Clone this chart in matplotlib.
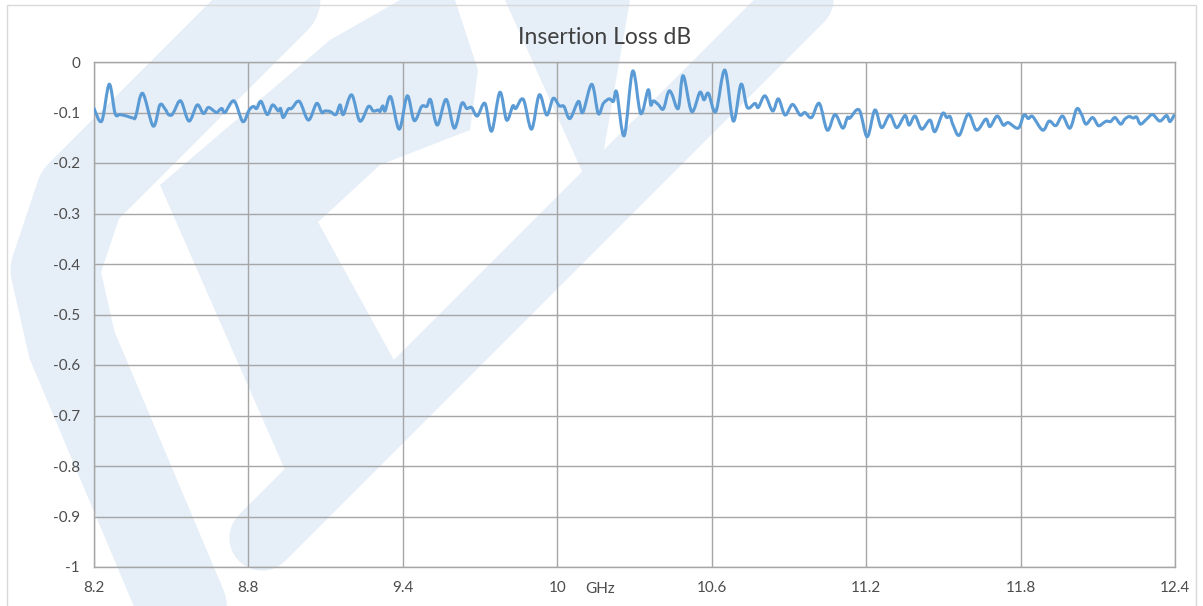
import numpy as np
import matplotlib.pyplot as plt
from matplotlib.path import Path
from matplotlib.patches import PathPatch, Rectangle, Polygon
from matplotlib.lines import Line2D

plt.rcParams['font.family'] = ['Lato', 'DejaVu Sans']

# frequency (GHz) and insertion loss (dB)
freq = [8.200, 8.230, 8.259, 8.282, 8.301, 8.327, 8.352, 8.362, 8.389, 8.430,
        8.456, 8.476, 8.489, 8.502, 8.511, 8.537, 8.569, 8.601, 8.625, 8.644,
        8.666, 8.677, 8.696, 8.709, 8.744, 8.778, 8.803, 8.819, 8.832, 8.849,
        8.873, 8.894, 8.916, 8.925, 8.935, 8.955, 8.968, 8.998, 9.033, 9.065,
        9.085, 9.097, 9.117, 9.140, 9.156, 9.169, 9.201, 9.233, 9.266, 9.285,
        9.305, 9.311, 9.322, 9.331, 9.353, 9.386, 9.417, 9.444, 9.473, 9.493,
        9.508, 9.534, 9.568, 9.600, 9.629, 9.648, 9.667, 9.689, 9.719, 9.745,
        9.777, 9.803, 9.827, 9.839, 9.868, 9.900, 9.930, 9.959, 9.984, 10.008,
        10.026, 10.049, 10.082, 10.099, 10.134, 10.159, 10.179, 10.202, 10.218, 10.231,
        10.260, 10.293, 10.324, 10.353, 10.363, 10.373, 10.392, 10.412, 10.431, 10.444,
        10.470, 10.489, 10.522, 10.554, 10.570, 10.587, 10.616, 10.651, 10.684, 10.714,
        10.738, 10.768, 10.781, 10.807, 10.837, 10.859, 10.885, 10.914, 10.943, 10.962,
        10.988, 11.018, 11.049, 11.079, 11.109, 11.127, 11.137, 11.173, 11.204, 11.234,
        11.260, 11.292, 11.319, 11.351, 11.367, 11.390, 11.416, 11.448, 11.467, 11.497,
        11.513, 11.526, 11.538, 11.562, 11.597, 11.629, 11.665, 11.681, 11.709, 11.733,
        11.752, 11.791, 11.813, 11.830, 11.847, 11.886, 11.911, 11.937, 11.963, 11.992,
        12.018, 12.037, 12.054, 12.080, 12.102, 12.121, 12.134, 12.150, 12.167, 12.189,
        12.205, 12.222, 12.238, 12.251, 12.266, 12.290, 12.313, 12.341, 12.367, 12.380,
        12.396]
loss = [-0.092, -0.117, -0.044, -0.102, -0.104, -0.107, -0.111, -0.108, -0.062, -0.127,
        -0.085, -0.093, -0.104, -0.105, -0.098, -0.077, -0.117, -0.085, -0.102, -0.090,
        -0.097, -0.100, -0.092, -0.100, -0.077, -0.118, -0.095, -0.088, -0.092, -0.078,
        -0.104, -0.085, -0.097, -0.092, -0.110, -0.093, -0.092, -0.078, -0.115, -0.082,
        -0.100, -0.097, -0.098, -0.104, -0.085, -0.104, -0.065, -0.117, -0.088, -0.097,
        -0.095, -0.098, -0.087, -0.097, -0.069, -0.133, -0.067, -0.116, -0.088, -0.088,
        -0.075, -0.125, -0.074, -0.131, -0.082, -0.092, -0.090, -0.107, -0.082, -0.137,
        -0.060, -0.115, -0.087, -0.092, -0.074, -0.133, -0.065, -0.105, -0.072, -0.087,
        -0.088, -0.112, -0.078, -0.100, -0.044, -0.102, -0.082, -0.073, -0.078, -0.060,
        -0.146, -0.018, -0.102, -0.055, -0.085, -0.077, -0.084, -0.093, -0.060, -0.062,
        -0.092, -0.027, -0.098, -0.060, -0.075, -0.062, -0.098, -0.016, -0.117, -0.044,
        -0.090, -0.082, -0.090, -0.067, -0.097, -0.073, -0.105, -0.084, -0.105, -0.100,
        -0.110, -0.082, -0.135, -0.104, -0.131, -0.110, -0.111, -0.095, -0.148, -0.095,
        -0.130, -0.105, -0.130, -0.106, -0.125, -0.107, -0.133, -0.115, -0.138, -0.102,
        -0.110, -0.108, -0.125, -0.145, -0.103, -0.135, -0.113, -0.128, -0.107, -0.125,
        -0.120, -0.131, -0.105, -0.112, -0.108, -0.135, -0.117, -0.126, -0.107, -0.131,
        -0.093, -0.104, -0.123, -0.110, -0.126, -0.121, -0.117, -0.118, -0.110, -0.123,
        -0.113, -0.108, -0.111, -0.109, -0.123, -0.113, -0.104, -0.117, -0.106, -0.118,
        -0.106]

x_ticks = [8.2, 8.8, 9.4, 10.0, 10.6, 11.2, 11.8, 12.4]
x_labels = ['8.2', '8.8', '9.4', '10', '10.6', '11.2', '11.8', '12.4']
y_ticks = [0, -0.1, -0.2, -0.3, -0.4, -0.5, -0.6, -0.7, -0.8, -0.9, -1]
y_labels = ['0', '-0.1', '-0.2', '-0.3', '-0.4', '-0.5', '-0.6', '-0.7', '-0.8', '-0.9', '-1']

W, H = 1203, 606
fig = plt.figure(figsize=(W / 100, H / 100), dpi=100)
fig.patch.set_facecolor('white')


def fx(px):
    return px / W


def fy(py):
    return 1 - py / H


# faint logo watermark behind the chart (rough shapes)
wm = '#e6eef7'
strokes = [
    ([295, 80, 55, 72, 190], [-20, 195, 270, 345, 625], 64),
    ([262, 810], [538, -10], 47),
]
for xs, ys, w in strokes:
    fig.add_artist(Line2D([fx(v) for v in xs], [fy(v) for v in ys],
                          transform=fig.transFigure, color=wm, lw=w,
                          solid_capstyle='round', solid_joinstyle='round', zorder=-5))
blobs = [
    [(160, 185), (330, 40), (400, 0), (455, 0), (478, 70), (470, 130), (380, 165),
     (318, 222), (395, 362), (300, 478), (285, 470)],
    [(505, 0), (630, 0), (600, 172), (585, 178)],
]
for pts in blobs:
    fig.add_artist(Polygon([(fx(a), fy(b)) for a, b in pts], closed=True,
                           transform=fig.transFigure, facecolor=wm,
                           edgecolor='none', zorder=-5))

fig.add_artist(Rectangle((fx(7), fy(610)), fx(1196) - fx(7), fy(5) - fy(610),
                         transform=fig.transFigure, fill=False,
                         edgecolor='#d9d9d9', lw=1.0, zorder=-4))

ax = fig.add_axes([fx(94), fy(567), fx(1175) - fx(94), fy(62) - fy(567)])
ax.set_facecolor('none')
ax.set_xlim(8.2, 12.4)
ax.set_ylim(-1, 0)
ax.set_xticks(x_ticks)
ax.set_xticklabels(x_labels)
ax.set_yticks(y_ticks)
ax.set_yticklabels(y_labels)
ax.tick_params(length=0, labelsize=11, labelcolor='#4d4d4d', pad=10)
ax.grid(True, color='#a6a6a6', lw=1.0)
ax.set_axisbelow(True)
for s in ax.spines.values():
    s.set_color('#a6a6a6')
    s.set_linewidth(1.0)


# smoothed line like the spreadsheet's "smoothed line" option
def smooth_path(x, y):
    pts = np.column_stack([x, y])
    verts = [pts[0]]
    codes = [Path.MOVETO]
    n = len(pts)
    for i in range(n - 1):
        p0 = pts[i - 1] if i > 0 else pts[i]
        p1 = pts[i]
        p2 = pts[i + 1]
        p3 = pts[i + 2] if i + 2 < n else pts[i + 1]
        verts += [p1 + (p2 - p0) / 6, p2 - (p3 - p1) / 6, p2]
        codes += [Path.CURVE4] * 3
    return Path(verts, codes)


ax.add_patch(PathPatch(smooth_path(freq, loss), fill=False, edgecolor='#5b9bd5',
                       lw=2.2, joinstyle='round', capstyle='round', zorder=3))

fig.text(fx(605), fy(37), 'Insertion Loss dB', ha='center', va='center',
         fontsize=16.5, color='#404040')
ax.annotate('GHz', xy=(10.11, 0), xycoords=('data', 'axes fraction'),
            xytext=(0, -11), textcoords='offset points', ha='left', va='top',
            fontsize=11, color='#4d4d4d')

fig.savefig('out.png', dpi=100)
